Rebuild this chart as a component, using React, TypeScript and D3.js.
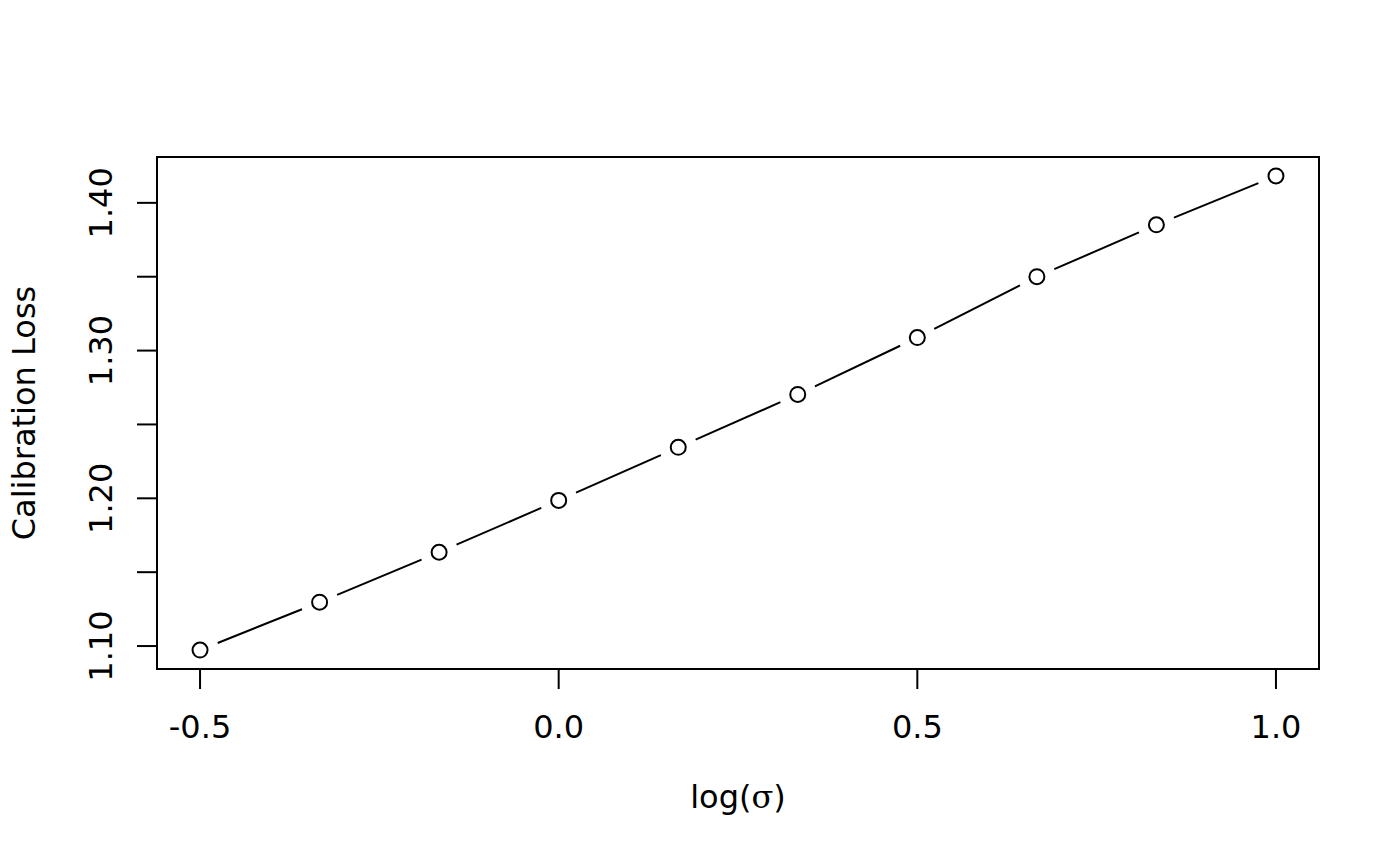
import React from 'react';
import * as d3 from 'd3';

// values
const logSigma = [-0.5, -0.3333, -0.1667, 0, 0.1667, 0.3333, 0.5, 0.6667, 0.8333, 1.0];
const calibrationLoss = [1.0973, 1.1297, 1.1635, 1.1986, 1.2345, 1.2703, 1.3088, 1.35, 1.3851, 1.4182];
const xTicks = [-0.5, 0.0, 0.5, 1.0];
const yTicks = [1.1, 1.15, 1.2, 1.25, 1.3, 1.35, 1.4];
const yTickLabels = ['1.10', '', '1.20', '', '1.30', '', '1.40'];

const W = 1400;
const H = 866;
const box = { left: 157, right: 1319, top: 157, bottom: 669 };
const font = "'DejaVu Sans', sans-serif";
const fs = 32;

const App: React.FC = () => {
  // R-style 4% extension of the data range
  const xr = d3.extent(logSigma) as [number, number];
  const yr = d3.extent(calibrationLoss) as [number, number];
  const xp = (xr[1] - xr[0]) * 0.04;
  const yp = (yr[1] - yr[0]) * 0.04;

  const x = d3.scaleLinear().domain([xr[0] - xp, xr[1] + xp]).range([box.left, box.right]);
  const y = d3.scaleLinear().domain([yr[0] - yp, yr[1] + yp]).range([box.bottom, box.top]);

  const pts = logSigma.map((v, i) => [x(v), y(calibrationLoss[i])] as [number, number]);
  const gap = 19;
  const r = 7.5;

  // type="b": segments between points with gaps around each point
  const segs = pts.slice(1).map((p, i) => {
    const a = pts[i];
    const dx = p[0] - a[0];
    const dy = p[1] - a[1];
    const len = Math.sqrt(dx * dx + dy * dy);
    const ux = dx / len;
    const uy = dy / len;
    return {
      x1: a[0] + ux * gap,
      y1: a[1] + uy * gap,
      x2: p[0] - ux * gap,
      y2: p[1] - uy * gap,
    };
  });

  const tick = 20;

  return (
    <div style={{ position: 'absolute', left: 0, top: 0 }}>
      <svg width={W} height={H} style={{ display: 'block', background: '#fff' }} fontFamily={font}>
        <rect
          x={box.left}
          y={box.top}
          width={box.right - box.left}
          height={box.bottom - box.top}
          fill="none"
          stroke="#000"
          strokeWidth={2}
        />

        {/* x axis */}
        <line x1={x(xTicks[0])} x2={x(xTicks[xTicks.length - 1])} y1={box.bottom} y2={box.bottom} stroke="#000" strokeWidth={2} />
        {xTicks.map(t => (
          <g key={'x' + t}>
            <line x1={x(t)} x2={x(t)} y1={box.bottom} y2={box.bottom + tick} stroke="#000" strokeWidth={2} />
            <text x={x(t)} y={738} textAnchor="middle" fontSize={fs} fill="#000">
              {d3.format('.1f')(t).replace('−', '-')}
            </text>
          </g>
        ))}

        {/* y axis */}
        <line x1={box.left} x2={box.left} y1={y(yTicks[0])} y2={y(yTicks[yTicks.length - 1])} stroke="#000" strokeWidth={2} />
        {yTicks.map((t, i) => (
          <g key={'y' + t}>
            <line x1={box.left - tick} x2={box.left} y1={y(t)} y2={y(t)} stroke="#000" strokeWidth={2} />
            {yTickLabels[i] && (
              <text
                transform={`translate(112,${y(t)}) rotate(-90)`}
                textAnchor="middle"
                fontSize={fs}
                fill="#000"
              >
                {yTickLabels[i]}
              </text>
            )}
          </g>
        ))}

        {/* series */}
        {segs.map((s, i) => (
          <line key={'s' + i} {...s} stroke="#000" strokeWidth={2} />
        ))}
        {pts.map((p, i) => (
          <circle key={'p' + i} cx={p[0]} cy={p[1]} r={r} fill="none" stroke="#000" strokeWidth={2} />
        ))}

        {/* titles */}
        <text x={(box.left + box.right) / 2} y={808} textAnchor="middle" fontSize={fs} fill="#000">
          log(<tspan fontFamily="'DejaVu Serif', serif">σ</tspan>)
        </text>
        <text
          transform={`translate(35,${(box.top + box.bottom) / 2}) rotate(-90)`}
          textAnchor="middle"
          fontSize={fs}
          fill="#000"
        >
          Calibration Loss
        </text>
      </svg>
    </div>
  );
};

export default App;
